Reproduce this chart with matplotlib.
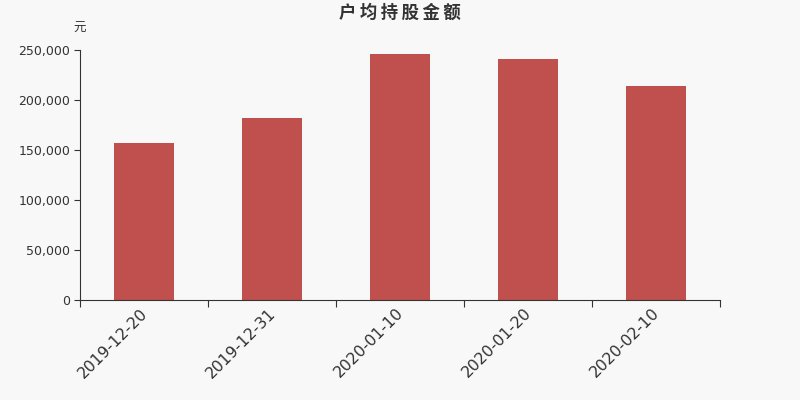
import matplotlib.pyplot as plt
import matplotlib.transforms as mtransforms
import numpy as np

plt.rcParams['font.family'] = ['DejaVu Sans', 'Noto Sans CJK SC']

# Data
dates = ['2019-12-20', '2019-12-31', '2020-01-10', '2020-01-20', '2020-02-10']
amounts = [157000, 182000, 246000, 241000, 214000]

fig = plt.figure(figsize=(8, 4), dpi=100, facecolor='#f8f8f8')
ax = fig.add_axes([0.1, 0.25, 0.8, 0.625])
ax.set_facecolor('#f8f8f8')

x = np.arange(len(dates))
ax.bar(x, amounts, width=0.47, color='#c0504d', zorder=2)

ax.set_xlim(-0.5, len(dates) - 0.5)
ax.set_ylim(0, 250000)
ax.set_yticks(np.arange(0, 250001, 50000))
ax.set_yticklabels([f'{v:,}' for v in range(0, 250001, 50000)])

# ticks at band boundaries, labels at band centres
ax.set_xticks(np.arange(-0.5, len(dates), 1.0))
ax.set_xticklabels([])
ax.set_xticks(x, minor=True)
ax.set_xticklabels(dates, minor=True, rotation=45, ha='right',
                   rotation_mode='anchor', fontsize=11.3, color='#333333')
ax.tick_params(axis='x', which='minor', length=0, pad=4)
ax.tick_params(axis='x', which='major', length=5, color='#333333')
ax.tick_params(axis='y', length=4, pad=3, color='#333333', labelsize=9,
               labelcolor='#333333')
shift = mtransforms.ScaledTranslation(-0.04, 0, fig.dpi_scale_trans)
for lbl in ax.get_xticklabels(minor=True):
    lbl.set_transform(lbl.get_transform() + shift)

for s in ['top', 'right']:
    ax.spines[s].set_visible(False)
for s in ['left', 'bottom']:
    ax.spines[s].set_color('#333333')

fig.text(0.5, 0.967, '户\u2009均\u2009持\u2009股\u2009金\u2009额', ha='center', va='center',
         fontsize=12.5, fontweight='bold', color='#333333',
         family=['Noto Sans CJK SC', 'DejaVu Sans'])
fig.text(0.099, 0.928, '元', ha='center', va='center', fontsize=9,
         color='#333333', family=['Noto Sans CJK SC', 'DejaVu Sans'])

fig.savefig('out.png', dpi=100, facecolor=fig.get_facecolor())
